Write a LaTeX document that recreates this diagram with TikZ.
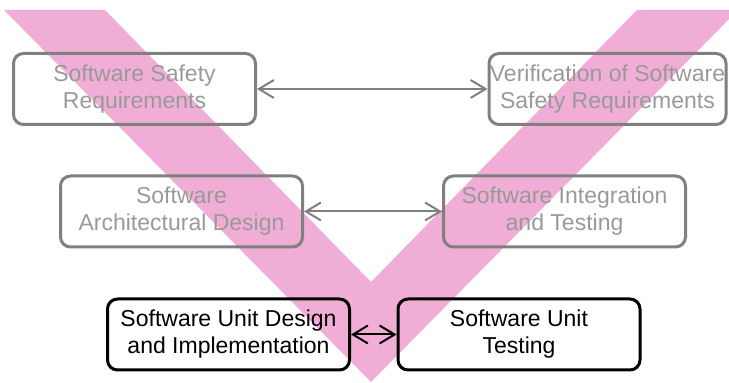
\documentclass[tikz,border=0pt]{standalone}
\usepackage{fontspec}
\setmainfont{Liberation Sans}
\usepackage{xcolor}
\usepackage{tikz}
\usetikzlibrary{arrows.meta, positioning}
\definecolor{vpink}{RGB}{240,174,214}
\definecolor{framegray}{RGB}{128,128,128}
\definecolor{textgray}{RGB}{153,153,153}

\begin{document}
\begin{tikzpicture}[x=1pt, y=1pt,
    stage/.style={draw, rounded corners=10pt, line width=3pt, align=center,
        minimum width=242pt, minimum height=71pt, inner sep=0pt,
        font=\fontsize{23}{27}\selectfont},
    faded/.style={stage, draw=framegray, text=textgray},
    active/.style={stage, draw=black, text=black},
    link/.style={{Straight Barb[length=15pt, width=18pt]}-{Straight Barb[length=15pt, width=18pt]}, line width=2pt}]
    \useasboundingbox (0,0) rectangle (729,383);
    % the V band behind the stages
    \begin{scope}
        \clip (0,0) rectangle (729,383);
        \fill[vpink] (4,373) -- (105,373) -- (371,101) -- (637,373)
            -- (738,373) -- (371,1) -- cycle;
    \end{scope}
    % left arm (specification)
    \node[faded] (safetyreq) at (134.5,294) {Software Safety\\Requirements};
    \node[faded] (archdesign) at (181.5,171.5) {Software\\Architectural Design};
    \node[active] (unitdesign) at (228.5,48.5) {Software Unit Design\\and Implementation};
    % right arm (testing)
    \node[faded, minimum width=237pt] (safetyver) at (607.5,294) {Verification of Software\\Safety Requirements};
    \node[faded] (integtest) at (564.5,171.5) {Software Integration\\and Testing};
    \node[active] (unittest) at (519,48.5) {Software Unit\\Testing};
    % correspondences
    \draw[link, framegray] (safetyreq) -- (safetyver);
    \draw[link, framegray] (archdesign) -- (integtest);
    \draw[link] (unitdesign) -- (unittest);
\end{tikzpicture}
\end{document}
